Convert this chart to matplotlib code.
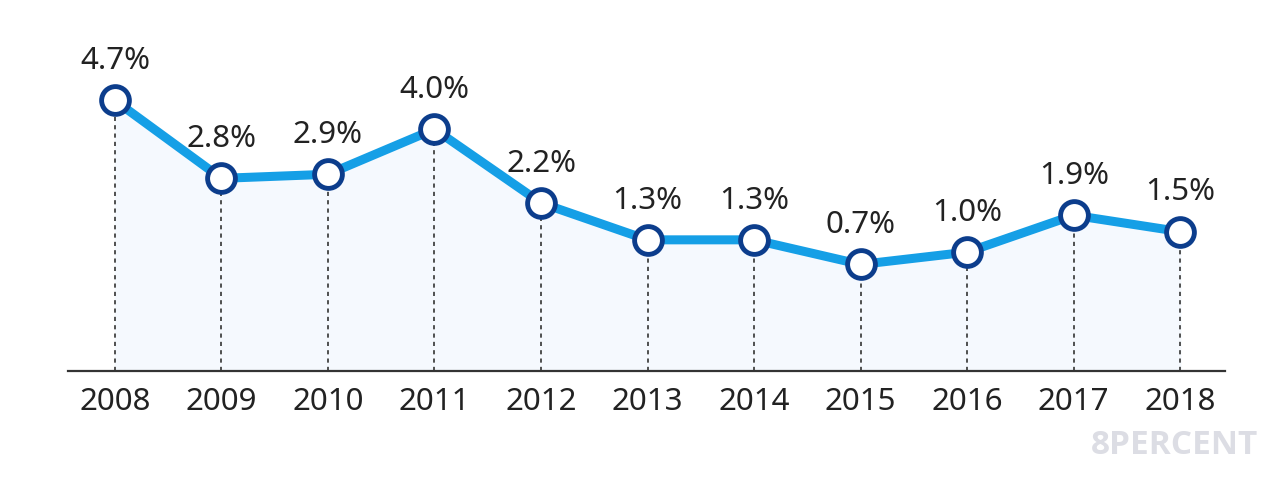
import numpy as np
import matplotlib.pyplot as plt

# 연도별 수치 (라벨 값)
years = [2008, 2009, 2010, 2011, 2012, 2013, 2014, 2015, 2016, 2017, 2018]
rates = [4.7, 2.8, 2.9, 4.0, 2.2, 1.3, 1.3, 0.7, 1.0, 1.9, 1.5]
labels = ['4.7%', '2.8%', '2.9%', '4.0%', '2.2%', '1.3%', '1.3%', '0.7%', '1.0%', '1.9%', '1.5%']

plt.rcParams['font.family'] = ['Noto Sans', 'DejaVu Sans']

line_color = '#159fe6'
edge_color = '#0c3d8c'
fill_color = '#f5f9fe'

fig = plt.figure(figsize=(12.8, 4.81), dpi=100)
ax = fig.add_axes([68/1280, (481-372)/481, (1225-68)/1280, (372-40)/481])

ymin = -1.9
ax.set_xlim(2007.56, 2018.42)
ax.set_ylim(ymin, 6.2)

ax.fill_between(years, rates, ymin, color=fill_color, zorder=1)
ax.vlines(years, ymin, rates, colors='#333333', linestyles=(0, (2.5, 2.5)), linewidth=1.2, zorder=2)
ax.plot(years, rates, color=line_color, linewidth=6.5, solid_capstyle='round', zorder=3)
ax.plot(years, rates, linestyle='none', marker='o', markersize=20,
        markerfacecolor='white', markeredgecolor=edge_color, markeredgewidth=3.5, zorder=4)

for x, y, t in zip(years, rates, labels):
    ax.annotate(t, (x, y), xytext=(0, 29), textcoords='offset points',
                ha='center', va='center', fontsize=22.5, color='#222222')

for s in ['top', 'right', 'left']:
    ax.spines[s].set_visible(False)
ax.spines['bottom'].set_color('#333333')
ax.spines['bottom'].set_linewidth(1.6)
ax.spines['bottom'].set_zorder(5)

ax.set_yticks([])
ax.set_xticks(years)
ax.set_xticklabels([str(y) for y in years], fontsize=22.5, color='#222222')
ax.tick_params(axis='x', length=0, pad=11)

fig.text(1258/1280, (481-446)/481, '8PERCENT', ha='right', va='center',
         fontsize=24, fontweight='bold', color='#dcdde4', family=['Open Sans', 'Roboto', 'DejaVu Sans'])

fig.savefig('out.png', dpi=100)
